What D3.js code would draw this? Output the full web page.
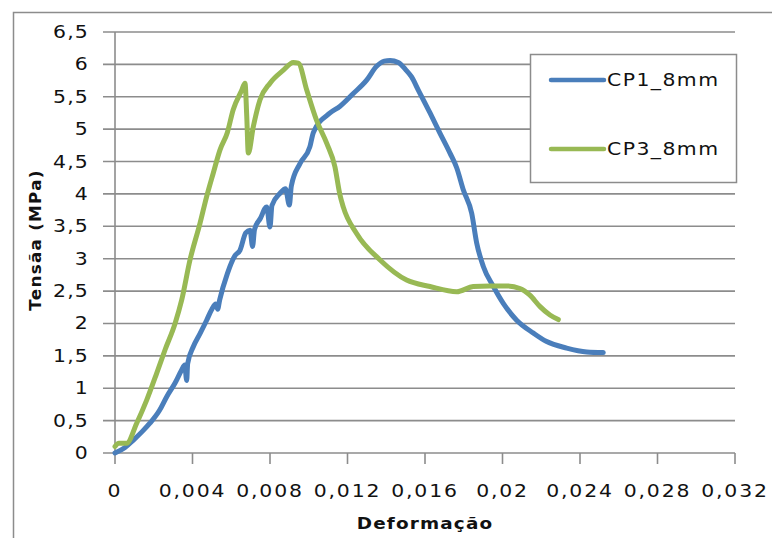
<!DOCTYPE html>
<html>
<head>
<meta charset="utf-8">
<script src="https://cdn.jsdelivr.net/npm/d3@7"></script>
<style>
  html, body { margin: 0; padding: 0; background: #fff; }
  svg { display: block; }
  text { font-family: "DejaVu Sans", Verdana, sans-serif; fill: #111; }
</style>
</head>
<body>
<svg id="chart" width="772" height="538"></svg>
<script>
// Stress–strain curves of two 8 mm specimens
const seriesNames = ["CP1_8mm", "CP3_8mm"];
const seriesColors = ["#4a7ebb", "#98b954"];

const cp1Strain = [0, 0.0005, 0.00095, 0.0014, 0.0018, 0.0023, 0.00267, 0.0031, 0.00344, 0.0036, 0.0037, 0.00375,
  0.00404, 0.0044, 0.00473, 0.005, 0.0052, 0.0053, 0.0054, 0.0058, 0.0062, 0.00645, 0.00675, 0.00697, 0.0071,
  0.0072, 0.0075, 0.00783, 0.008, 0.0081, 0.00852, 0.0088, 0.009, 0.0091, 0.00955, 0.01006, 0.01024, 0.0111,
  0.0116, 0.0123, 0.013, 0.0135, 0.0139, 0.0142, 0.01462, 0.015, 0.0153, 0.01566, 0.01626, 0.01677, 0.01729,
  0.01764, 0.01798, 0.01841, 0.01867, 0.01901, 0.01953, 0.02004, 0.02073, 0.0216, 0.02228, 0.02331, 0.02435, 0.0252];
const cp1Stress = [0, 0.08, 0.2, 0.33, 0.46, 0.66, 0.87, 1.08, 1.28, 1.36, 1.12, 1.38,
  1.64, 1.85, 2.05, 2.22, 2.3, 2.22, 2.36, 2.77, 3.05, 3.13, 3.4, 3.44, 3.19,
  3.45, 3.62, 3.8, 3.49, 3.82, 4.01, 4.08, 3.83, 4.12, 4.47, 4.73, 4.95, 5.25,
  5.35, 5.55, 5.76, 5.97, 6.05, 6.06, 6.03, 5.92, 5.81, 5.6, 5.25, 4.94, 4.63,
  4.4, 4.06, 3.7, 3.24, 2.88, 2.57, 2.31, 2.05, 1.85, 1.72, 1.62, 1.56, 1.55];

const cp3Strain = [0, 0.0002, 0.0006, 0.00112, 0.00164, 0.00215, 0.00258, 0.0031, 0.00344, 0.00387, 0.00439,
  0.00473, 0.00507, 0.00542, 0.0058, 0.0061, 0.00654, 0.00671, 0.0068, 0.00688, 0.00714, 0.00748, 0.008,
  0.00869, 0.0092, 0.00946, 0.0099, 0.0104, 0.01093, 0.01135, 0.0116, 0.01178, 0.01247, 0.01368, 0.01505,
  0.01626, 0.01764, 0.01849, 0.01935, 0.0202, 0.0209, 0.0214, 0.02194, 0.02245, 0.02288];
const cp3Stress = [0.1, 0.15, 0.15, 0.46, 0.82, 1.23, 1.59, 2.0, 2.36, 2.98, 3.55,
  3.96, 4.32, 4.68, 4.95, 5.3, 5.6, 5.71, 5.2, 4.63, 5.04, 5.45, 5.71,
  5.91, 6.03, 6.02, 5.6, 5.14, 4.78, 4.42, 4.0, 3.8, 3.39, 2.98, 2.67,
  2.57, 2.49, 2.57, 2.58, 2.58, 2.54, 2.44, 2.26, 2.13, 2.06];

const xTicks = [0, 0.004, 0.008, 0.012, 0.016, 0.02, 0.024, 0.028, 0.032];
const xTickLabels = ["0", "0,004", "0,008", "0,012", "0,016", "0,02", "0,024", "0,028", "0,032"];
const yTicks = [0, 0.5, 1, 1.5, 2, 2.5, 3, 3.5, 4, 4.5, 5, 5.5, 6, 6.5];
const yTickLabels = ["0", "0,5", "1", "1,5", "2", "2,5", "3", "3,5", "4", "4,5", "5", "5,5", "6", "6,5"];
const xTitle = "Deformação";
const yTitle = "Tensãa (MPa)";

const svg = d3.select("#chart");
const plot = { left: 115, right: 735, top: 32, bottom: 453 };
const gridColor = "#8c8c8c";
const wide = "scale(1.2,1)"; // the chart's lettering is set a little wider than the font

const x = d3.scaleLinear().domain([0, 0.032]).range([plot.left, plot.right]);
const y = d3.scaleLinear().domain([0, 6.5]).range([plot.bottom, plot.top]);

// outer chart frame (runs past the right and bottom edges)
svg.append("rect")
  .attr("x", 13.5).attr("y", 12.5).attr("width", 800).attr("height", 600)
  .attr("fill", "none").attr("stroke", gridColor).attr("stroke-width", 1.5);

// horizontal gridlines with tick stubs on the left
svg.append("g").selectAll("line").data(yTicks).join("line")
  .attr("x1", plot.left - 12).attr("x2", plot.right)
  .attr("y1", d => y(d)).attr("y2", d => y(d))
  .attr("stroke", gridColor).attr("stroke-width", 1.6);

// y axis labels
svg.append("g").selectAll("text").data(yTicks).join("text")
  .attr("transform", d => `translate(89,${y(d) + 6}) ${wide}`)
  .attr("text-anchor", "end")
  .attr("font-size", 17)
  .attr("letter-spacing", 1)
  .text((d, i) => yTickLabels[i]);

// y axis line
svg.append("line")
  .attr("x1", plot.left).attr("x2", plot.left)
  .attr("y1", plot.top).attr("y2", plot.bottom)
  .attr("stroke", gridColor).attr("stroke-width", 1.6);

// x axis ticks
svg.append("g").selectAll("line").data(xTicks).join("line")
  .attr("x1", d => x(d)).attr("x2", d => x(d))
  .attr("y1", plot.bottom).attr("y2", plot.bottom + 11)
  .attr("stroke", gridColor).attr("stroke-width", 1.6);

svg.append("g").selectAll("text").data(xTicks).join("text")
  .attr("transform", d => `translate(${x(d)},497) ${wide}`)
  .attr("text-anchor", "middle")
  .attr("font-size", 17)
  .attr("letter-spacing", 1.5)
  .text((d, i) => xTickLabels[i]);

// axis titles
svg.append("text")
  .attr("transform", "translate(425,529) scale(1.15,1)")
  .attr("text-anchor", "middle")
  .attr("font-size", 16).attr("font-weight", "bold")
  .attr("letter-spacing", 1)
  .text(xTitle);

svg.append("text")
  .attr("transform", "translate(41,240) rotate(-90) scale(1.05,1)")
  .attr("text-anchor", "middle")
  .attr("font-size", 16).attr("font-weight", "bold")
  .attr("letter-spacing", 1.2)
  .text(yTitle);

// curves
const seriesData = [
  d3.zip(cp1Strain, cp1Stress),
  d3.zip(cp3Strain, cp3Stress)
];
const line = d3.line().x(d => x(d[0])).y(d => y(d[1])).curve(d3.curveMonotoneX);

svg.append("g").selectAll("path").data(seriesData).join("path")
  .attr("d", line)
  .attr("fill", "none")
  .attr("stroke", (d, i) => seriesColors[i])
  .attr("stroke-width", 5)
  .attr("stroke-linejoin", "round")
  .attr("stroke-linecap", "round");

// legend
const legend = svg.append("g");
legend.append("rect")
  .attr("x", 530.5).attr("y", 54.5).attr("width", 206).attr("height", 128)
  .attr("fill", "#fff").attr("stroke", gridColor).attr("stroke-width", 1.5);
const legendRows = [80, 149];
seriesNames.forEach((name, i) => {
  legend.append("line")
    .attr("x1", 551).attr("x2", 604)
    .attr("y1", legendRows[i]).attr("y2", legendRows[i])
    .attr("stroke", seriesColors[i]).attr("stroke-width", 4.5)
    .attr("stroke-linecap", "round");
  legend.append("text")
    .attr("transform", `translate(607,${legendRows[i] + 6}) ${wide}`)
    .attr("font-size", 17)
    .attr("letter-spacing", 1.2)
    .text(name);
});
</script>
</body>
</html>
